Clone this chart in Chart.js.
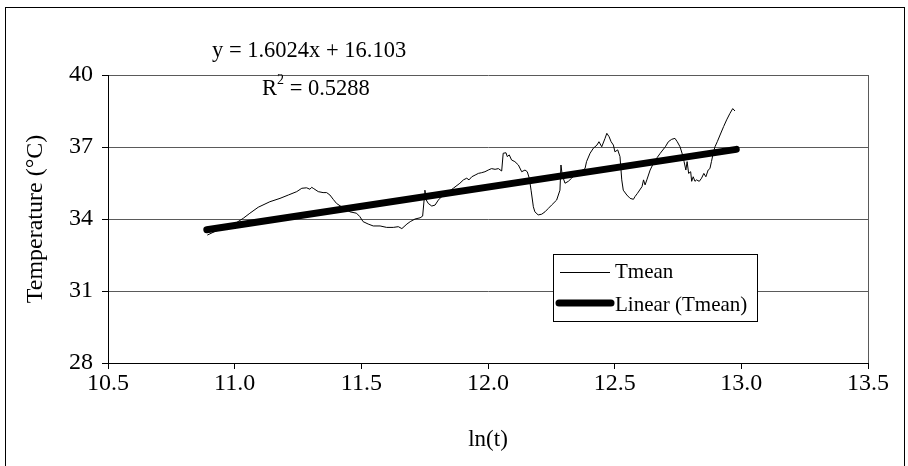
<!DOCTYPE html>
<html>
<head>
<meta charset="utf-8">
<script src="https://cdn.jsdelivr.net/npm/chart.js@4/dist/chart.umd.min.js"></script>
<style>
    html, body { margin: 0; padding: 0; background: #fff; }
</style>
</head>
<body>
<canvas id="chart" width="908" height="466"></canvas>
<script>
// ln(t) values of the measured series
const lnT = [
    10.892, 10.95, 11.0, 11.034, 11.06, 11.093, 11.139, 11.179, 11.212, 11.245,
    11.265, 11.284, 11.297, 11.304, 11.31, 11.33, 11.349, 11.363, 11.376, 11.389,
    11.402, 11.43, 11.455, 11.481, 11.494, 11.507, 11.527, 11.547, 11.574, 11.6,
    11.626, 11.646, 11.66, 11.68, 11.693, 11.712, 11.732, 11.742, 11.749, 11.751,
    11.756, 11.764, 11.778, 11.791, 11.804, 11.817, 11.84, 11.863, 11.889, 11.903,
    11.916, 11.925, 11.936, 11.949, 11.962, 11.975, 11.988, 12.001, 12.014, 12.028,
    12.041, 12.054, 12.06, 12.071, 12.076, 12.084, 12.093, 12.106, 12.12, 12.133,
    12.146, 12.155, 12.163, 12.17, 12.179, 12.185, 12.198, 12.212, 12.225, 12.238,
    12.251, 12.271, 12.284, 12.288, 12.293, 12.304, 12.317, 12.33, 12.343, 12.36,
    12.383, 12.389, 12.403, 12.416, 12.43, 12.438, 12.449, 12.462, 12.469, 12.478,
    12.486, 12.495, 12.501, 12.512, 12.521, 12.528, 12.534, 12.548, 12.561, 12.574,
    12.58, 12.59, 12.608, 12.614, 12.62, 12.627, 12.64, 12.653, 12.667, 12.68,
    12.70, 12.712, 12.725, 12.738, 12.747, 12.758, 12.768, 12.774, 12.781, 12.786,
    12.792, 12.80, 12.804, 12.81, 12.817, 12.823, 12.834, 12.843, 12.852, 12.86,
    12.869, 12.876, 12.882, 12.889, 12.896, 12.905, 12.916, 12.93, 12.942, 12.955,
    12.966, 12.975
];
// Tmean (°C)
const tmean = [
    33.33, 33.62, 33.80, 34.03, 34.24, 34.49, 34.72, 34.86, 35.00, 35.14,
    35.28, 35.30, 35.24, 35.32, 35.28, 35.14, 35.10, 35.10, 35.00, 34.82,
    34.65, 34.45, 34.30, 34.24, 34.10, 33.89, 33.79, 33.71, 33.71, 33.65,
    33.65, 33.68, 33.60, 33.79, 33.89, 34.00, 34.05, 34.12, 34.93, 35.20,
    34.80, 34.65, 34.54, 34.58, 34.79, 34.93, 35.10, 35.28, 35.49, 35.63,
    35.70, 35.63, 35.76, 35.83, 35.90, 35.93, 35.97, 36.04, 36.10, 36.07,
    36.10, 36.00, 36.74, 36.76, 36.60, 36.67, 36.46, 36.39, 36.25, 35.97,
    36.04, 35.97, 35.70, 35.20, 34.51, 34.30, 34.17, 34.20, 34.30, 34.44,
    34.58, 34.79, 35.20, 36.25, 35.83, 35.49, 35.57, 35.70, 35.83, 35.95,
    36.10, 36.39, 36.74, 36.95, 37.08, 37.22, 37.01, 37.36, 37.57, 37.43,
    37.22, 37.08, 36.80, 36.88, 36.60, 35.63, 35.20, 35.00, 34.86, 34.82,
    34.93, 35.07, 35.35, 35.63, 35.42, 35.63, 36.04, 36.32, 36.55, 36.74,
    37.01, 37.22, 37.32, 37.36, 37.22, 37.01, 36.67, 36.39, 36.04, 36.39,
    35.90, 35.97, 35.57, 35.76, 35.57, 35.63, 35.57, 35.70, 35.90, 35.76,
    36.04, 36.10, 36.39, 36.74, 37.01, 37.22, 37.50, 37.85, 38.13, 38.40,
    38.60, 38.50
];
// trendline end points as drawn
const trendX = [10.89, 12.98];
const trendY = [33.55, 36.90];

const xTicks = [10.5, 11.0, 11.5, 12.0, 12.5, 13.0, 13.5];
const yTicks = [28, 31, 34, 37, 40];

const seriesNames = ['Tmean', 'Linear (Tmean)'];
const eqText = 'y = 1.6024x + 16.103';
const r2Value = '0.5288';

const FONT = "'Liberation Serif', 'Times New Roman', serif";
const GRID = '#5a5a5a';

// 外框、图例、公式
const extras = {
    id: 'extras',
    afterDraw(chart) {
        const ctx = chart.ctx;
        const area = chart.chartArea;
        ctx.save();

        // outer border
        ctx.strokeStyle = '#000';
        ctx.lineWidth = 1;
        ctx.strokeRect(5.5, 7.5, 899, 470);

        // plot area right border
        ctx.strokeStyle = GRID;
        ctx.beginPath();
        ctx.moveTo(Math.round(area.right) + 0.5, area.top);
        ctx.lineTo(Math.round(area.right) + 0.5, area.bottom);
        ctx.stroke();

        // equation
        ctx.fillStyle = '#000';
        ctx.font = '22.5px ' + FONT;
        ctx.textBaseline = 'middle';
        ctx.textAlign = 'left';
        ctx.fillText(eqText, 212, 51);
        ctx.fillText('R', 262, 89);
        let w = ctx.measureText('R').width;
        ctx.font = '14px ' + FONT;
        ctx.fillText('2', 262 + w, 80);
        let w2 = ctx.measureText('2').width;
        ctx.font = '22.5px ' + FONT;
        ctx.fillText(' = ' + r2Value, 262 + w + w2, 89);

        // legend
        ctx.fillStyle = '#fff';
        ctx.fillRect(553, 254, 205, 68);
        ctx.strokeStyle = '#000';
        ctx.strokeRect(553.5, 254.5, 204, 67);

        ctx.lineCap = 'butt';
        ctx.lineWidth = 1;
        ctx.beginPath();
        ctx.moveTo(560, 272.5);
        ctx.lineTo(610, 272.5);
        ctx.stroke();

        ctx.lineCap = 'round';
        ctx.lineWidth = 7;
        ctx.beginPath();
        ctx.moveTo(559, 303);
        ctx.lineTo(611, 303);
        ctx.stroke();

        ctx.fillStyle = '#000';
        ctx.font = '21px ' + FONT;
        ctx.fillText(seriesNames[0], 615, 272);
        ctx.fillText(seriesNames[1], 615, 305);

        ctx.restore();
    }
};

new Chart(document.getElementById('chart'), {
    type: 'scatter',
    data: {
        datasets: [
            {
                label: seriesNames[0],
                data: lnT.map((x, i) => ({x: x, y: tmean[i]})),
                showLine: true,
                borderColor: '#000',
                borderWidth: 1,
                pointRadius: 0,
                tension: 0,
                order: 1
            },
            {
                label: seriesNames[1],
                data: trendX.map((x, i) => ({x: x, y: trendY[i]})),
                showLine: true,
                borderColor: '#000',
                borderWidth: 7,
                borderCapStyle: 'round',
                pointRadius: 0,
                order: 0
            }
        ]
    },
    options: {
        responsive: false,
        animation: false,
        devicePixelRatio: 1,
        layout: {
            padding: {left: 0, top: 75, right: 40, bottom: 0}
        },
        plugins: {
            legend: {display: false},
            tooltip: {enabled: false}
        },
        scales: {
            x: {
                type: 'linear',
                min: 10.5,
                max: 13.5,
                afterBuildTicks: s => { s.ticks = xTicks.map(v => ({value: v})); },
                afterFit: s => { s.height = 103; },
                border: {color: '#000', width: 1},
                grid: {
                    drawOnChartArea: false,
                    drawTicks: true,
                    tickLength: 6,
                    tickColor: '#000'
                },
                ticks: {
                    color: '#000',
                    padding: 0,
                    maxRotation: 0,
                    font: {family: FONT, size: 24},
                    callback: v => v.toFixed(1)
                },
                title: {
                    display: true,
                    text: 'ln(t)',
                    color: '#000',
                    font: {family: FONT, size: 23},
                    padding: {top: 0, bottom: 12}
                }
            },
            y: {
                type: 'linear',
                min: 28,
                max: 40,
                afterBuildTicks: s => { s.ticks = yTicks.map(v => ({value: v})); },
                afterFit: s => { s.width = 108; },
                border: {color: '#000', width: 1},
                grid: {
                    color: GRID,
                    drawTicks: true,
                    tickLength: 6,
                    tickColor: '#000'
                },
                ticks: {
                    color: '#000',
                    padding: 9,
                    font: {family: FONT, size: 24}
                },
                title: {
                    display: true,
                    text: 'Temperature (°C)',
                    color: '#000',
                    font: {family: FONT, size: 24},
                    padding: {top: 21, bottom: 0}
                }
            }
        }
    },
    plugins: [extras]
});
</script>
</body>
</html>
